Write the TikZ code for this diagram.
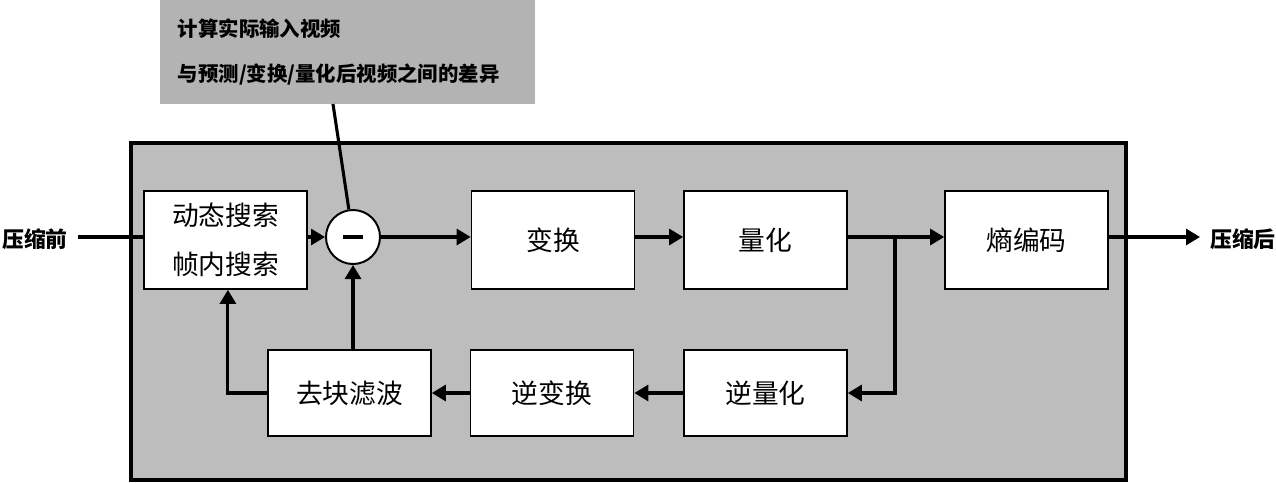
\documentclass[tikz,border=0pt]{standalone}
\usepackage{fontspec}
\setmainfont{Noto Sans CJK SC}
\usepackage{tikz}
\usetikzlibrary{positioning,arrows.meta}
\usepackage{xcolor}
\definecolor{panelgray}{HTML}{BDBDBD}
\definecolor{notegray}{HTML}{B3B3B3}

\begin{document}
\begin{tikzpicture}[
    x=0.025cm, y=-0.025cm,
    procBox/.style={rectangle, draw=black, fill=white, line width=1.2pt, minimum width=4.075cm, minimum height=2.45cm, inner sep=0pt, align=center, font=\fontsize{19}{35}\selectfont},
    loopBox/.style={procBox, minimum height=2.15cm},
    sumNode/.style={circle, draw=black, fill=white, line width=1.4pt, minimum size=1.35cm, inner sep=0pt},
    ioLabel/.style={inner sep=0pt, font=\fontsize{15.5}{18}\selectfont\bfseries},
    noteBox/.style={rectangle, fill=notegray, minimum width=9.375cm, minimum height=2.6cm, inner xsep=0.45cm, text width=8.475cm, align=left, font=\fontsize{14.5}{32}\selectfont\bfseries},
    flow/.style={-{Triangle[length=0.35cm,width=0.4cm]}, line width=2.2pt}
]
    \useasboundingbox (0,0) rectangle (1276,482);

    % Outer panel
    \draw[fill=panelgray, line width=2.2pt] (131,143) rectangle (1126,480);

    % Note above the subtractor
    \node[noteBox] (note) at (347.5,52) {计算实际输入视频\\与预测/变换/量化后视频之间的差异};
    \coordinate (noteTail) at (333,104);

    % Forward path
    \node[procBox] (search) at (225.5,240) {动态搜索\\帧内搜索};
    \node[sumNode] (minus) at (353,237) {\rule{0.5cm}{2.6pt}};
    \node[procBox] (trans) at (553,240) {变换};
    \node[procBox] (quant) at (765.5,240) {量化};
    \node[procBox] (entropy) at (1026.5,240) {熵编码};

    % Reconstruction loop
    \node[loopBox] (deblock) at (349.5,393) {去块滤波};
    \node[loopBox] (itrans) at (552,393) {逆变换};
    \node[loopBox] (iquant) at (765.5,393) {逆量化};
    \coordinate (branch) at (895,237);

    % Input and output labels
    \node[ioLabel, anchor=west] (inLbl) at (2,239) {压缩前};
    \node[ioLabel, anchor=west] (outLbl) at (1210,239) {压缩后};

    % Connectors
    \draw[line width=2.2pt] (inLbl.east) ++(10,-2) coordinate (inStart) -- (inStart -| search.west);
    \draw[flow] (search.east |- minus) -- (minus);
    \draw[flow] (minus) -- (trans.west |- minus);
    \draw[flow] (trans.east |- minus) -- (quant.west |- minus);
    \draw[flow] (quant.east |- minus) -- (entropy.west |- minus);
    \draw[flow] (entropy.east |- minus) -- ([xshift=-0.25cm]outLbl.west |- minus);
    \draw[flow] (branch) |- (iquant.east);
    \draw[flow] (iquant) -- (itrans);
    \draw[flow] (itrans) -- (deblock);
    \draw[flow] (deblock.west) -| ([xshift=0.06cm]search.south);
    \draw[flow] (deblock.north -| minus) -- (minus.south);
    \draw[line width=2.2pt] (noteTail) -- (minus);
\end{tikzpicture}
\end{document}
